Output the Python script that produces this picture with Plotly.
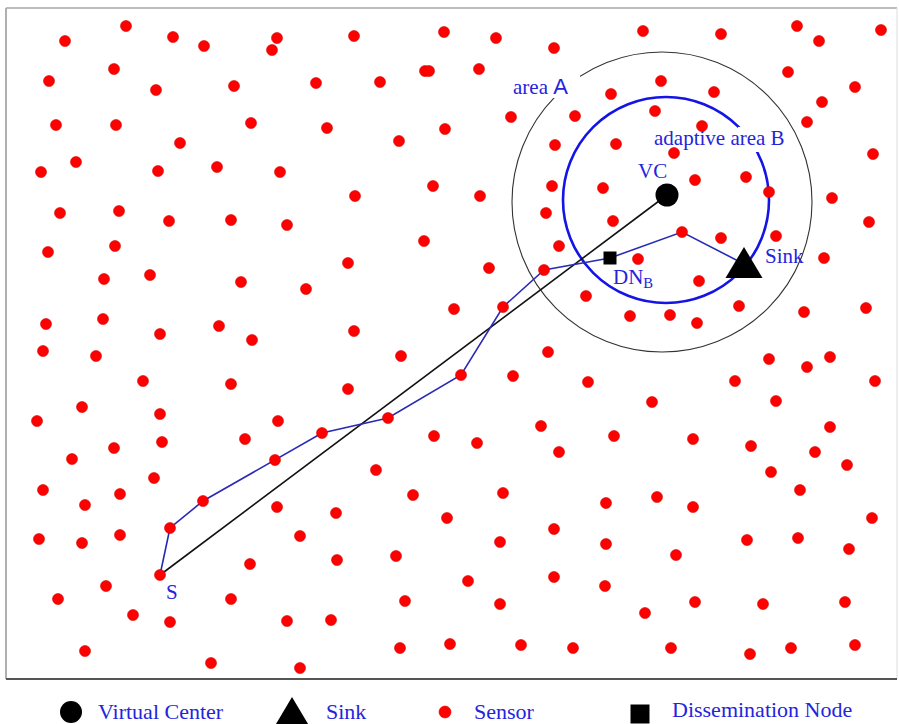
import plotly.graph_objects as go

# ---- data (field coordinates; y grows downward) ----
sensor_x = [126, 65, 173, 204, 277, 272, 114, 49, 156, 234,
            354, 444, 496, 554, 425, 429, 479, 316, 380,
            643, 721, 797, 819, 881, 788, 855, 661, 611, 714,
            56, 116, 251, 180, 76, 41, 158, 217, 280,
            327, 399, 445, 511, 575, 555,
            822, 807, 873, 655, 702, 616, 674,
            695, 746, 769, 603, 613, 721, 776, 832, 869, 638, 824, 699, 739, 804, 866, 630, 670, 697,
            60, 119, 169, 231, 287, 48, 115, 104, 150, 241, 46, 103, 160, 219, 252,
            355, 433, 480, 552, 546, 424, 559, 348, 489, 306, 454, 586, 354,
            43, 96, 143, 231, 82, 37, 160, 278, 245, 114, 162, 72, 154, 43, 120, 85, 277,
            401, 548, 348, 513, 588, 434, 477, 541, 559, 376, 413, 503,
            769, 807, 830, 735, 875, 652, 776, 614, 693, 830, 751, 815, 847, 771, 800, 606, 657, 693,
            39, 82, 120, 250, 106, 58, 231, 133, 170, 287, 85, 211, 300, 300,
            336, 447, 554, 500, 337, 396, 468, 554, 405, 500, 331, 400, 450, 521, 573,
            872, 606, 676, 747, 798, 849, 605, 695, 763, 845, 645, 671, 750, 791, 855]
sensor_y = [26, 41, 37, 46, 38, 50, 69, 81, 90, 86,
            36, 32, 38, 48, 71, 71, 69, 83, 82,
            31, 34, 26, 41, 30, 72, 87, 81, 94, 92,
            125, 125, 123, 143, 162, 172, 171, 167, 172,
            128, 141, 129, 117, 116, 145,
            102, 122, 154, 111, 126, 144, 153,
            180, 177, 192, 188, 221, 238, 236, 198, 222, 259, 258, 281, 306, 312, 308, 316, 315, 323,
            213, 211, 221, 220, 225, 252, 246, 279, 275, 282, 324, 319, 334, 326, 340,
            196, 186, 196, 186, 213, 241, 246, 263, 268, 289, 309, 296, 331,
            351, 356, 381, 384, 407, 421, 414, 421, 439, 448, 442, 459, 478, 490, 494, 505, 507,
            356, 352, 389, 376, 382, 436, 443, 426, 452, 470, 495, 493,
            359, 367, 357, 381, 381, 402, 401, 436, 439, 427, 446, 452, 465, 472, 490, 503, 497, 507,
            539, 543, 535, 564, 586, 599, 599, 615, 622, 621, 651, 663, 668, 536,
            513, 518, 529, 542, 560, 556, 581, 577, 601, 604, 620, 648, 644, 645, 648,
            518, 544, 555, 540, 538, 549, 586, 602, 604, 602, 613, 648, 654, 648, 645]

# routing path: source S -> ... -> dissemination node -> ... -> sink
path_x = [160, 170, 203, 275, 322, 388, 461, 503, 544, 610, 682, 744]
path_y = [575, 528, 501, 460, 433, 418, 375, 307, 270, 258, 232, 264]
relay_x = [160, 170, 203, 275, 322, 388, 461, 503, 544, 682]
relay_y = [575, 528, 501, 460, 433, 418, 375, 307, 270, 232]

source = (160, 575)
vc = (667, 195)
sink = (744, 264)
dn = (610, 258)

areaA_center, areaA_radius = (662, 202), 150
areaB_center, areaB_radius = (666, 200), 103

legend_labels = ["Virtual Center", "Sink", "Sensor", "Dissemination Node"]

# ---- styles ----
RED = "#ff0000"
BLUE_TXT = "#2424dc"
SERIF = "Liberation Serif, Times New Roman, serif"
W, H = 899, 724

fig = go.Figure()

# straight line S -> VC
fig.add_trace(go.Scatter(x=[source[0], vc[0]], y=[source[1], vc[1]], mode="lines",
                         line=dict(color="#111111", width=1.6), hoverinfo="skip"))
# routing path
fig.add_trace(go.Scatter(x=path_x, y=path_y, mode="lines",
                         line=dict(color="#2a2ab4", width=1.6), hoverinfo="skip"))
# sensors
fig.add_trace(go.Scatter(x=sensor_x + relay_x, y=sensor_y + relay_y, mode="markers",
                         marker=dict(size=11, color=RED, line=dict(color="#d80000", width=0.6)),
                         hoverinfo="skip"))
# virtual center
fig.add_trace(go.Scatter(x=[vc[0]], y=[vc[1]], mode="markers",
                         marker=dict(size=23, color="black"), hoverinfo="skip"))
# dissemination node
fig.add_trace(go.Scatter(x=[dn[0]], y=[dn[1]], mode="markers",
                         marker=dict(size=13, color="black", symbol="square"), hoverinfo="skip"))
# sink triangle (built around sink position)
tri_dx, tri_up, tri_dn = 18.5, 17, 14
fig.add_trace(go.Scatter(
    x=[sink[0], sink[0] + tri_dx, sink[0] - tri_dx, sink[0]],
    y=[sink[1] - tri_up, sink[1] + tri_dn, sink[1] + tri_dn, sink[1] - tri_up],
    mode="lines", fill="toself", fillcolor="black", line=dict(color="black", width=0),
    hoverinfo="skip"))

# ---- legend (drawn under the field) ----
ly = 712
fig.add_trace(go.Scatter(x=[71], y=[ly], mode="markers",
                         marker=dict(size=22, color="black"), hoverinfo="skip"))
fig.add_trace(go.Scatter(x=[292, 311, 273, 292], y=[697, 729, 729, 697], mode="lines",
                         fill="toself", fillcolor="black", line=dict(color="black", width=0),
                         hoverinfo="skip"))
fig.add_trace(go.Scatter(x=[445], y=[ly], mode="markers",
                         marker=dict(size=12, color=RED, line=dict(color="#d80000", width=0.6)),
                         hoverinfo="skip"))
fig.add_trace(go.Scatter(x=[640], y=[714], mode="markers",
                         marker=dict(size=19, color="black", symbol="square"), hoverinfo="skip"))

shapes = []
shapes.append(dict(type="circle", xref="x", yref="y", layer="below",
                   x0=areaA_center[0] - areaA_radius, x1=areaA_center[0] + areaA_radius,
                   y0=areaA_center[1] - areaA_radius, y1=areaA_center[1] + areaA_radius,
                   line=dict(color="#333333", width=1.1)))
shapes.append(dict(type="circle", xref="x", yref="y", layer="below",
                   x0=areaB_center[0] - areaB_radius, x1=areaB_center[0] + areaB_radius,
                   y0=areaB_center[1] - areaB_radius, y1=areaB_center[1] + areaB_radius,
                   line=dict(color="#1414e6", width=2.6)))
# white gaps where labels cut the circles
shapes.append(dict(type="rect", xref="x", yref="y", layer="below", x0=548, x1=580, y0=74, y1=98,
                   fillcolor="white", line=dict(width=0)))
shapes.append(dict(type="rect", xref="x", yref="y", layer="below", x0=738, x1=788, y0=127, y1=152,
                   fillcolor="white", line=dict(width=0)))
# frame
shapes.append(dict(type="line", xref="x", yref="y", x0=6, x1=897, y0=8, y1=8,
                   line=dict(color="#bdbdbd", width=2)))
shapes.append(dict(type="line", xref="x", yref="y", x0=6, x1=6, y0=8, y1=679,
                   line=dict(color="#b0b0b0", width=2)))
shapes.append(dict(type="line", xref="x", yref="y", x0=897, x1=897, y0=8, y1=679,
                   line=dict(color="#dddddd", width=1)))
shapes.append(dict(type="line", xref="x", yref="y", x0=6, x1=897, y0=679, y1=679,
                   line=dict(color="#555555", width=2)))

def label(text, x, y, size=21, anchor="left", family=SERIF):
    return dict(text=text, x=x, y=y, xref="x", yref="y", showarrow=False,
                xanchor=anchor, yanchor="middle", font=dict(family=family, size=size, color=BLUE_TXT))

annotations = [
    label('area <span style="font-family:Liberation Sans, Arial, sans-serif;font-size:22px">A</span>', 511, 86),
    label("adaptive area B", 652, 138),
    label("VC", 652, 171, anchor="center"),
    label("Sink", 763, 256),
    label("DN<sub>B</sub>", 611, 278),
    label("S", 172, 592, anchor="center"),
    label(legend_labels[0], 96, 711, size=22),
    label(legend_labels[1], 324, 711, size=22),
    label(legend_labels[2], 472, 711, size=22),
    label(legend_labels[3], 670, 709, size=22),
]

fig.update_layout(
    width=W, height=H, margin=dict(l=0, r=0, t=0, b=0),
    paper_bgcolor="white", plot_bgcolor="white", showlegend=False,
    xaxis=dict(range=[0, W], visible=False, domain=[0, 1], fixedrange=True),
    yaxis=dict(range=[H, 0], visible=False, domain=[0, 1], fixedrange=True),
    shapes=shapes, annotations=annotations,
)

fig.write_html("out.html", config={"displayModeBar": False},
               post_script="document.body.style.margin='0';document.body.style.overflow='hidden';")
